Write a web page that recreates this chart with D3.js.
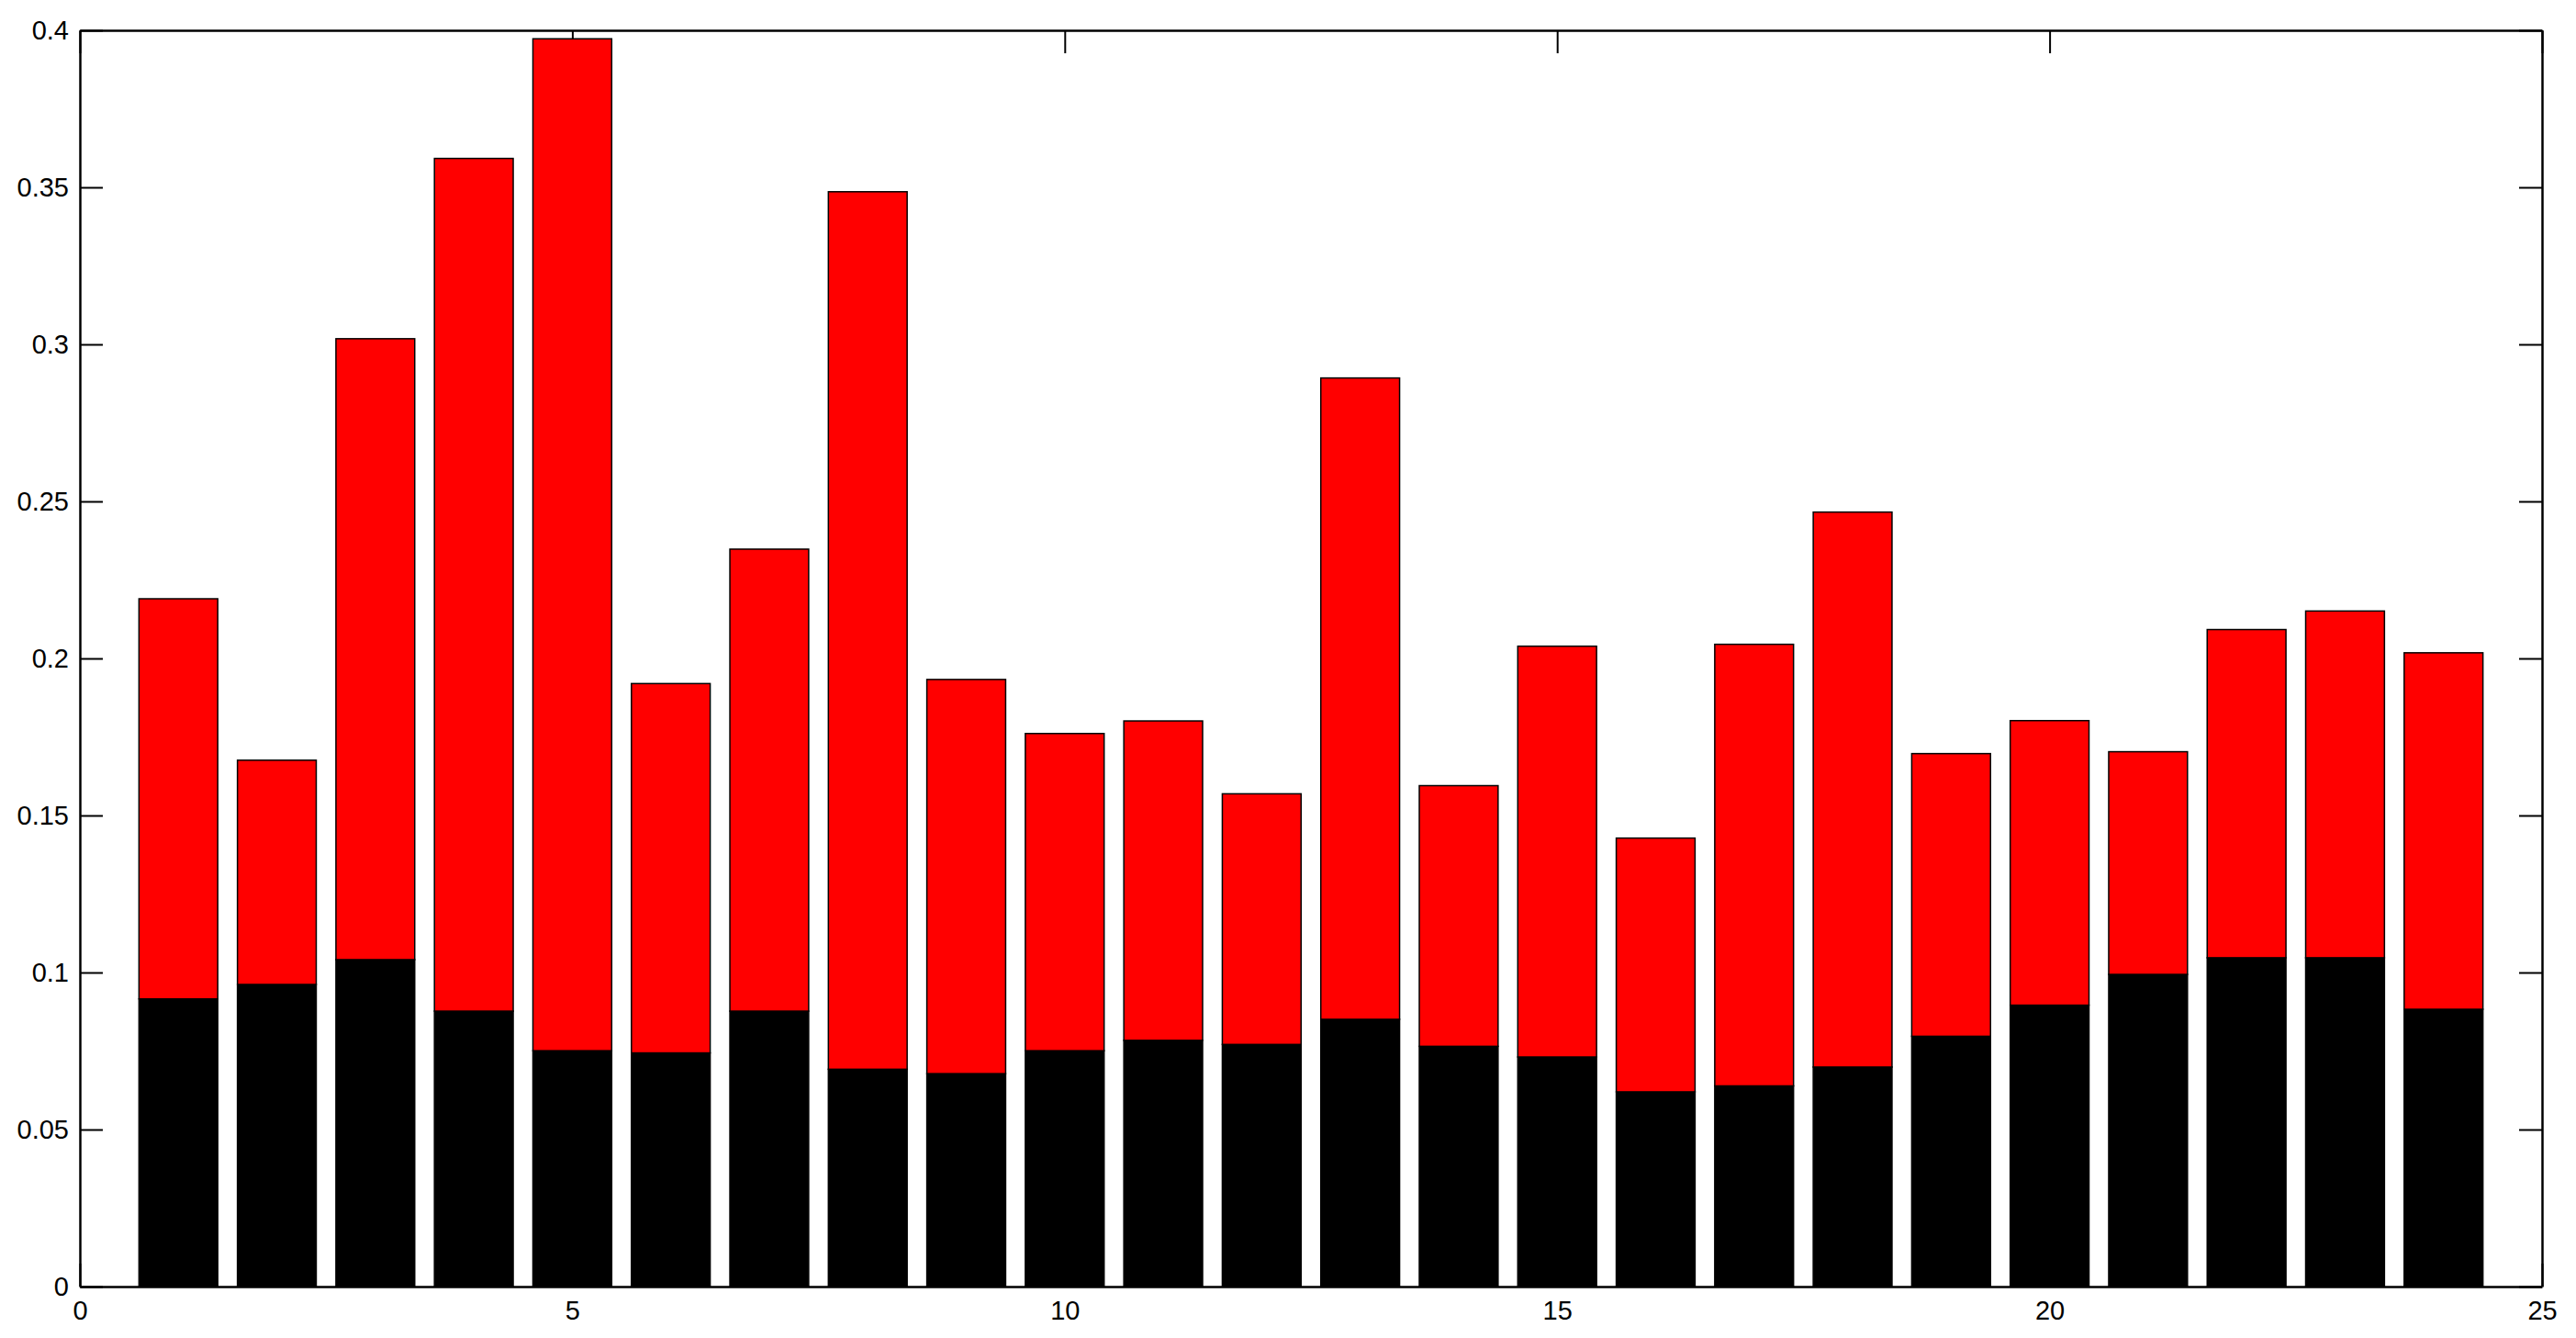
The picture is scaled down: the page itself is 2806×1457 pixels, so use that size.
<!DOCTYPE html>
<html>
<head>
<meta charset="utf-8">
<script src="https://cdn.jsdelivr.net/npm/d3@7"></script>
<style>
  html, body { margin: 0; padding: 0; background: #fff; }
  svg { display: block; }
  .axis text { font-family: "Liberation Sans", Arial, Helvetica, sans-serif; font-size: 29px; fill: #000; }
  .axis path, .axis line { stroke: #000; }
</style>
</head>
<body>
<svg id="chart" width="2806" height="1457"></svg>
<script>
// Categories (bar positions 1..24)
const categories = [1,2,3,4,5,6,7,8,9,10,11,12,13,14,15,16,17,18,19,20,21,22,23,24];
// Bottom (black) segment values
const blackValues = [0.0916,0.0962,0.1041,0.0877,0.0751,0.0744,0.0877,0.0692,0.0678,0.0751,0.0784,0.0771,
                     0.0851,0.0765,0.0731,0.0620,0.0639,0.0699,0.0797,0.0896,0.0994,0.1047,0.1047,0.0883];
// Top (red) segment values
const redValues = [0.1274,0.0714,0.1977,0.2715,0.3222,0.1176,0.1471,0.2794,0.1255,0.1010,0.1017,0.0798,
                   0.2042,0.0830,0.1308,0.0808,0.1406,0.1767,0.0900,0.0906,0.0709,0.1045,0.1104,0.1135];
// Tick labels
const xTicks = [0,5,10,15,20,25];
const yTicks = [0,0.05,0.1,0.15,0.2,0.25,0.3,0.35,0.4];
const seriesKeys = ["black","red"];
const seriesColors = {black: "#000000", red: "#ff0000"};

const margin = {left: 87, top: 33, right: 2806 - 2769, bottom: 1457 - 1401};
const W = 2806, H = 1457;
const iw = W - margin.left - margin.right;
const ih = H - margin.top - margin.bottom;

const svg = d3.select("#chart");
const g = svg.append("g").attr("transform", `translate(${margin.left},${margin.top})`);

const x = d3.scaleLinear().domain([0, 25]).range([0, iw]);
const y = d3.scaleLinear().domain([0, 0.4]).range([ih, 0]);
const barWidth = 0.8;

const fmt = d => d3.format("~g")(d);
const tickLen = 25;

// Axes first (ticks lie beneath the bars)
g.append("g").attr("class", "axis")
  .call(d3.axisLeft(y).tickValues(yTicks).tickFormat(fmt).tickSizeInner(-tickLen).tickSizeOuter(0).tickPadding(12));
g.append("g").attr("class", "axis").attr("transform", `translate(0,${ih})`)
  .call(d3.axisBottom(x).tickValues(xTicks).tickFormat(fmt).tickSizeInner(-tickLen).tickSizeOuter(0).tickPadding(15));
g.append("g").attr("class", "axis").attr("transform", `translate(${iw},0)`)
  .call(d3.axisRight(y).tickValues(yTicks).tickFormat("").tickSizeInner(-tickLen).tickSizeOuter(0));
g.append("g").attr("class", "axis")
  .call(d3.axisTop(x).tickValues(xTicks).tickFormat("").tickSizeInner(-tickLen).tickSizeOuter(0));

g.selectAll(".axis path.domain").attr("stroke-width", 2.5);
g.selectAll(".axis .tick line").attr("stroke-width", 2);

const table = categories.map((c, i) => ({cat: c, black: blackValues[i], red: redValues[i]}));
const stacked = d3.stack().keys(seriesKeys)(table);

g.selectAll("g.series")
  .data(stacked)
  .join("g")
  .attr("class", "series")
  .attr("fill", d => seriesColors[d.key])
  .selectAll("rect")
  .data(d => d)
  .join("rect")
  .attr("x", d => x(d.data.cat - barWidth / 2))
  .attr("width", d => x(barWidth) - x(0))
  .attr("y", d => y(d[1]))
  .attr("height", d => y(d[0]) - y(d[1]))
  .attr("stroke", "#000")
  .attr("stroke-width", 1.5);
</script>
</body>
</html>
